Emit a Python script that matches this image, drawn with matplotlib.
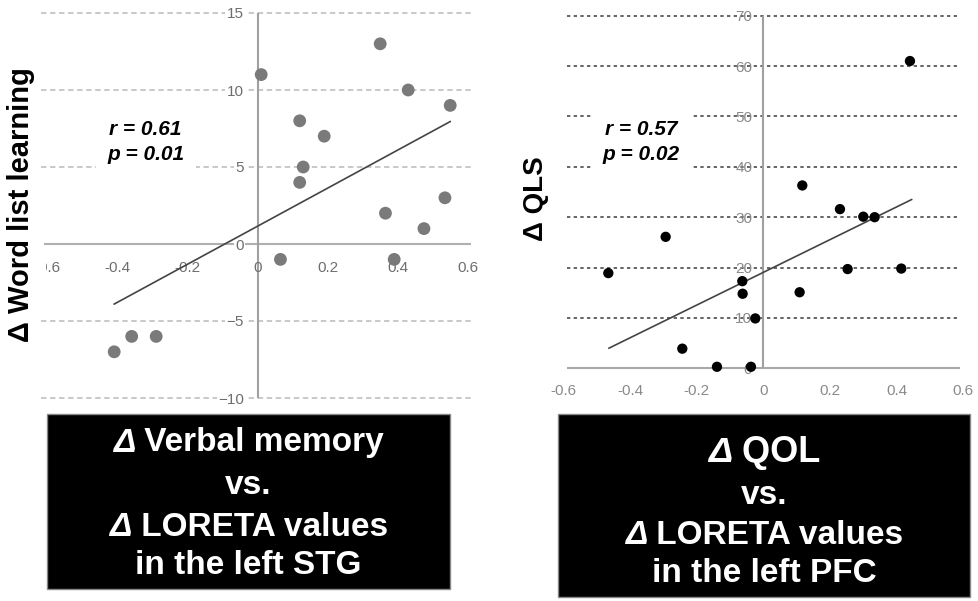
import numpy as np
import matplotlib
matplotlib.use("Agg")
import matplotlib.pyplot as plt
from matplotlib.patches import Rectangle
from matplotlib.transforms import Bbox

plt.rcParams['font.family'] = ['Liberation Sans', 'DejaVu Sans']

# ---- data: left panel (verbal memory vs LORETA, left STG) ----
stg_x = [0.01, 0.35, 0.43, 0.55, 0.12, 0.19, 0.13, 0.12, 0.535, 0.365, 0.475, 0.065, 0.39, -0.36, -0.29, -0.41]
stg_y = [11, 13, 10, 9, 8, 7, 5, 4, 3, 2, 1, -1, -1, -6, -6, -7]
stg_fit_x = [-0.41, 0.55]
stg_fit_y = [-3.9, 7.95]
stg_yticks = [-10, -5, 0, 5, 10, 15]
stg_xticks = [-0.6, -0.4, -0.2, 0, 0.2, 0.4, 0.6]
stg_xlabels = ['-0.6', '-0.4', '-0.2', '0', '0.2', '0.4', '0.6']

# ---- data: right panel (QOL vs LORETA, left PFC) ----
pfc_x = [0.44, 0.117, 0.23, 0.30, 0.334, -0.293, 0.253, 0.414, -0.465, -0.063, -0.062, 0.109, -0.024, -0.243, -0.139, -0.037]
pfc_y = [61, 36.3, 31.6, 30.1, 30, 26.1, 19.7, 19.8, 18.9, 17.3, 14.8, 15.1, 9.9, 3.9, 0.3, 0.3]
pfc_fit_x = [-0.463, 0.445]
pfc_fit_y = [4.0, 33.5]
pfc_yticks = [0, 10, 20, 30, 40, 50, 60, 70]
pfc_xticks = [-0.6, -0.4, -0.2, 0, 0.2, 0.4, 0.6]
pfc_xlabels = ['-0.6', '-0.4', '-0.2', '0', '0.2', '0.4', '0.6']

W, H = 979, 601
fig = plt.figure(figsize=(W / 100, H / 100), dpi=100)


def place_axes(x0, sx, y0, sy, xlim, ylim):
    # x0/y0: pixel of data zero, sx/sy: pixels per data unit
    left = x0 + sx * xlim[0]
    right = x0 + sx * xlim[1]
    top = y0 - sy * ylim[1]
    bottom = y0 - sy * ylim[0]
    ax = fig.add_axes([left / W, 1 - bottom / H, (right - left) / W, (bottom - top) / H])
    ax.set_xlim(xlim)
    ax.set_ylim(ylim)
    for s in ax.spines.values():
        s.set_visible(False)
    ax.set_facecolor('none')
    return ax


# ---------------- left panel ----------------
ax1 = place_axes(257.7, 350, 244, 15.4, (-0.62, 0.62), (-10.5, 15.5))
for yv in stg_yticks:
    if yv != 0:
        ax1.hlines(yv, -0.62, 0.61, colors='#c4c4c4', linestyles=(0, (3, 2)), lw=1.3, zorder=1)
ax1.hlines(0, -0.61, 0.61, colors='#b0b0b0', lw=1.5, zorder=1)
ax1.vlines(0, -10, 15, colors='#a0a0a0', lw=1.5, zorder=1)
ax1.plot(stg_fit_x, stg_fit_y, color='#444444', lw=1.2, zorder=2)
ax1.scatter(stg_x, stg_y, s=85, color='#7a7a7a', edgecolors='none', zorder=3)

ax1.spines['bottom'].set_position(('data', 0))
ax1.spines['left'].set_position(('data', 0))
ax1.set_xticks(stg_xticks)
ax1.set_xticklabels(stg_xlabels)
ax1.set_yticks(stg_yticks)
ax1.tick_params(axis='both', length=0, labelsize=11, labelcolor='#6e6e6e')
ax1.tick_params(axis='x', pad=12)
ax1.tick_params(axis='y', pad=10)
for lbl in ax1.get_yticklabels():
    lbl.set_bbox(dict(fc='white', ec='none', pad=1))
# the leftmost tick label is cut by the panel edge in the original
clip = Bbox([[46, 0], [W, H]])
for lbl in ax1.get_xticklabels():
    lbl.set_clip_box(clip)
    lbl.set_clip_on(True)

ax1.text(-0.32, 6.65, 'r = 0.61\np = 0.01', fontsize=15, fontweight='bold', fontstyle='italic',
         ha='center', va='center', linespacing=1.4,
         bbox=dict(boxstyle='square,pad=0.55', fc='white', ec='none'), zorder=4)

fig.text(21 / W, 1 - 205 / H, 'Δ Word list learning', rotation=90, fontsize=21,
         fontweight='bold', ha='center', va='center')

# ---------------- right panel ----------------
ax2 = place_axes(763.3, 333.3, 368.3, 5.037, (-0.62, 0.62), (-5, 73))
for yv in pfc_yticks:
    if yv != 0:
        ax2.hlines(yv, -0.59, 0.58, colors='#4a4a4a', linestyles=(0, (2, 2)), lw=1.2, zorder=1)
ax2.hlines(0, -0.59, 0.59, colors='#a8a8a8', lw=1.5, zorder=1)
ax2.vlines(0, 0, 70, colors='#a0a0a0', lw=1.5, zorder=1)
ax2.plot(pfc_fit_x, pfc_fit_y, color='#444444', lw=1.2, zorder=2)
ax2.scatter(pfc_x, pfc_y, s=55, color='black', edgecolors='none', zorder=3)

ax2.spines['bottom'].set_position(('data', 0))
ax2.spines['left'].set_position(('data', 0))
ax2.set_xticks(pfc_xticks)
ax2.set_xticklabels(pfc_xlabels)
ax2.set_yticks(pfc_yticks)
ax2.tick_params(axis='both', length=0, labelsize=11, labelcolor='#8a8a8a')
ax2.tick_params(axis='x', pad=11)
ax2.tick_params(axis='y', pad=8)

ax2.text(-0.367, 45, 'r = 0.57\np = 0.02', fontsize=15, fontweight='bold', fontstyle='italic',
         ha='center', va='center', linespacing=1.4,
         bbox=dict(boxstyle='square,pad=0.55', fc='white', ec='none'), zorder=4)

fig.text(536 / W, 1 - 199 / H, 'Δ QLS', rotation=90, fontsize=20,
         fontweight='bold', ha='center', va='center')

# ---------------- black caption boxes ----------------
def caption_box(x0, x1, y0, y1, lines):
    fig.patches.append(Rectangle((x0 / W, 1 - y1 / H), (x1 - x0) / W, (y1 - y0) / H,
                                 transform=fig.transFigure, fc='black', ec='#888888', lw=1.0))
    cx = (x0 + x1) / 2
    renderer = fig.canvas.get_renderer()
    for text, yc, size in lines:
        if text.startswith('Δ'):
            t1 = fig.text(0, 1 - yc / H, 'Δ', fontsize=size, fontweight='bold', fontstyle='italic',
                          color='white', ha='left', va='center')
            t2 = fig.text(0, 1 - yc / H, text[1:], fontsize=size, fontweight='bold',
                          color='white', ha='left', va='center')
            w1 = t1.get_window_extent(renderer).width
            w2 = t2.get_window_extent(renderer).width
            start = cx - (w1 + w2) / 2
            t1.set_x(start / W)
            t2.set_x((start + w1) / W)
        else:
            fig.text(cx / W, 1 - yc / H, text, fontsize=size, fontweight='bold',
                     color='white', ha='center', va='center')


caption_box(47, 450, 414, 589, [('Δ Verbal memory', 443, 24), ('vs.', 485, 24),
                                ('Δ LORETA values', 527, 24), ('in the left STG', 566, 24)])
caption_box(558, 970, 414, 597, [('Δ QOL', 453, 26), ('vs.', 495, 24),
                                 ('Δ LORETA values', 535, 24), ('in the left PFC', 573, 24)])

fig.savefig('out.png', dpi=100)
